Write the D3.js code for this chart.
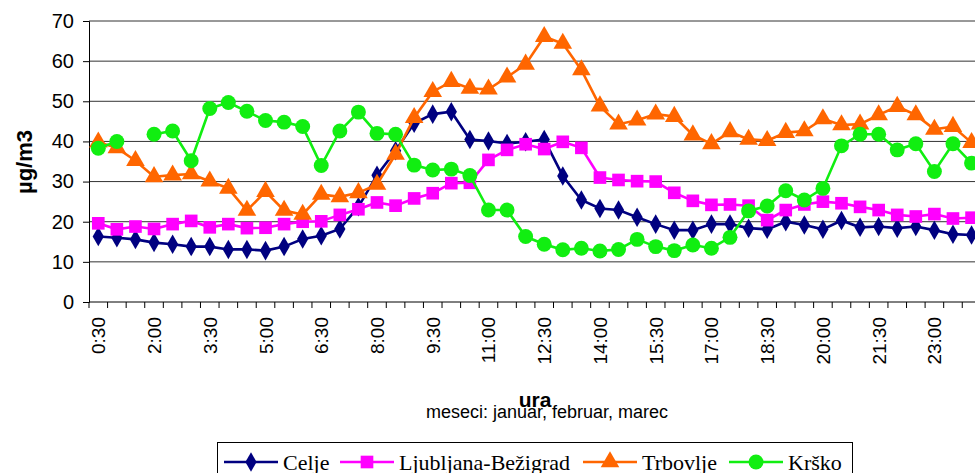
<!DOCTYPE html>
<html>
<head>
<meta charset="utf-8">
<script src="https://cdn.jsdelivr.net/npm/d3@7"></script>
<style>
  body { margin: 0; background: #fff; }
  svg { display: block; }
  text { font-family: Arial, "Liberation Sans", sans-serif; fill: #000; }
  .legend text { font-family: "Times New Roman", "Liberation Serif", serif; }
</style>
</head>
<body>
<div id="chart"></div>
<script>
// half-hour slots 0:30 .. 24:00
var times = ["0:30","1:00","1:30","2:00","2:30","3:00","3:30","4:00","4:30","5:00","5:30","6:00",
  "6:30","7:00","7:30","8:00","8:30","9:00","9:30","10:00","10:30","11:00","11:30","12:00",
  "12:30","13:00","13:30","14:00","14:30","15:00","15:30","16:00","16:30","17:00","17:30","18:00",
  "18:30","19:00","19:30","20:00","20:30","21:00","21:30","22:00","22:30","23:00","23:30","24:00"];

var celje = [16.3,16.0,15.6,14.8,14.4,13.8,13.8,13.1,13.1,12.8,13.8,15.7,
  16.5,18.2,23.7,31.6,37.7,44.5,46.8,47.4,40.5,40.1,39.5,39.9,
  40.5,31.4,25.4,23.3,22.9,21.1,19.4,17.9,17.9,19.4,19.4,18.4,
  18.1,20.0,19.2,18.1,20.3,18.6,18.8,18.4,18.8,17.9,16.9,16.7];

var ljubljana = [19.6,18.1,18.8,18.2,19.4,20.2,18.6,19.4,18.4,18.5,19.4,20.0,
  20.1,21.7,23.1,24.8,24.0,25.8,27.1,29.6,29.7,35.4,37.9,39.3,
  38.1,39.9,38.4,31.0,30.4,30.1,30.0,27.2,25.2,24.2,24.3,24.0,
  20.4,22.9,24.3,25.0,24.6,23.7,22.9,21.7,21.3,21.9,20.8,21.0];

var trbovlje = [39.8,38.4,35.2,31.2,31.6,31.9,30.1,28.3,22.8,27.5,22.8,21.8,
  26.8,26.2,27.2,29.3,36.8,45.9,52.4,54.9,53.2,53.0,56.0,59.2,
  66.1,64.4,57.8,48.8,44.3,45.3,46.8,46.2,41.6,39.4,42.4,40.5,
  40.2,42.2,42.6,45.6,44.1,44.3,46.6,48.7,46.6,43.0,43.7,39.7];

var krsko = [38.3,40.0,null,41.8,42.6,35.2,48.2,49.7,47.5,45.2,44.8,43.7,
  34.0,42.6,47.3,42.0,41.8,34.1,32.9,33.1,31.5,22.9,22.9,16.3,
  14.4,13.0,13.4,12.7,13.1,15.6,13.8,12.8,14.2,13.4,16.1,22.7,
  23.9,27.7,25.4,28.3,38.9,41.8,41.8,37.9,39.4,32.5,39.4,34.6];

var seriesNames = ["Celje", "Ljubljana-Bežigrad", "Trbovlje", "Krško"];
var seriesColors = ["#000080", "#ff00ff", "#ff6600", "#11ee11"];
var seriesShapes = [d3.symbolDiamond, d3.symbolSquare, d3.symbolTriangle, d3.symbolCircle];
var seriesSizes = [110, 160, 150, 175];
var yTicks = [0, 10, 20, 30, 40, 50, 60, 70];

var W = 975, H = 473;
var margin = {top: 21, left: 89, bottom: 171};
var plotW = times.length * 18.58;
var plotH = H - margin.top - margin.bottom;

var svg = d3.select("#chart").append("svg")
    .attr("width", W)
    .attr("height", H);

var g = svg.append("g")
    .attr("transform", "translate(" + margin.left + "," + margin.top + ")");

var xScale = d3.scaleBand().domain(times).range([0, plotW]);
var yScale = d3.scaleLinear().domain([0, 70]).range([plotH, 0]);

// gridlines
g.selectAll(".grid").data(yTicks.filter(function(d) { return d > 0; }))
  .enter().append("line")
    .attr("class", "grid")
    .attr("x1", 0).attr("x2", plotW)
    .attr("y1", function(d) { return yScale(d); })
    .attr("y2", function(d) { return yScale(d); })
    .attr("stroke", "#333").attr("stroke-width", 1);

// y axis
var yAxis = g.append("g")
  .call(d3.axisLeft(yScale).tickValues(yTicks).tickSize(6).tickPadding(9).tickFormat(d3.format("d")));
yAxis.select(".domain").attr("stroke", "#000");
yAxis.selectAll("text").style("font-size", "20px").attr("font-family", "Arial, 'Liberation Sans', sans-serif");

// x axis: ticks sit between categories
var xAxis = g.append("g").attr("transform", "translate(0," + plotH + ")");
xAxis.append("line").attr("x1", 0).attr("x2", plotW).attr("stroke", "#000");
xAxis.selectAll(".xt").data(d3.range(times.length + 1))
  .enter().append("line")
    .attr("x1", function(i) { return i * xScale.step(); })
    .attr("x2", function(i) { return i * xScale.step(); })
    .attr("y1", 0).attr("y2", 6)
    .attr("stroke", "#000");
xAxis.selectAll(".xl").data(times.filter(function(d, i) { return i % 3 === 0; }))
  .enter().append("text")
    .attr("transform", function(d) {
      return "translate(" + (xScale(d) + xScale.bandwidth() / 2 + 7) + ",15) rotate(-90)";
    })
    .attr("text-anchor", "end")
    .style("font-size", "19px")
    .text(function(d) { return d; });

// lines + markers
var allSeries = [celje, ljubljana, trbovlje, krsko];
allSeries.forEach(function(vals, k) {
  var line = d3.line()
    .defined(function(d) { return d !== null; })
    .x(function(d, i) { return xScale(times[i]) + xScale.bandwidth() / 2; })
    .y(function(d) { return yScale(d); });
  g.append("path")
    .datum(vals)
    .attr("fill", "none")
    .attr("stroke", seriesColors[k])
    .attr("stroke-width", 2.6)
    .attr("d", line);
  g.selectAll(".m" + k).data(vals.map(function(v, i) { return {v: v, t: times[i]}; })
      .filter(function(d) { return d.v !== null; }))
    .enter().append("path")
      .attr("transform", function(d) {
        return "translate(" + (xScale(d.t) + xScale.bandwidth() / 2) + "," + yScale(d.v) + ")";
      })
      .attr("d", d3.symbol().type(seriesShapes[k]).size(seriesSizes[k]))
      .attr("fill", seriesColors[k]);
});

// axis titles
svg.append("text")
  .attr("transform", "translate(32,162) rotate(-90)")
  .attr("text-anchor", "middle")
  .style("font-size", "22px").style("font-weight", "bold")
  .text("µg/m3");

svg.append("text")
  .attr("x", 535).attr("y", 407)
  .attr("text-anchor", "middle")
  .style("font-size", "21px").style("font-weight", "bold")
  .text("ura");

svg.append("text")
  .attr("x", 547).attr("y", 418)
  .attr("text-anchor", "middle")
  .style("font-size", "18px")
  .text("meseci: januar, februar, marec");

// legend
var legend = svg.append("g").attr("class", "legend");
legend.append("rect")
  .attr("x", 217.5).attr("y", 442.5)
  .attr("width", 635).attr("height", 40)
  .attr("fill", "#fff").attr("stroke", "#000");

var legX = [224, 340, 583, 729];
seriesNames.forEach(function(name, k) {
  var item = legend.append("g").attr("transform", "translate(" + legX[k] + ",462)");
  item.append("line").attr("x1", 0).attr("x2", 54)
    .attr("stroke", seriesColors[k]).attr("stroke-width", 2.6);
  item.append("path")
    .attr("transform", "translate(27,0)")
    .attr("d", d3.symbol().type(seriesShapes[k]).size(seriesSizes[k]))
    .attr("fill", seriesColors[k]);
  item.append("text")
    .attr("x", 59).attr("y", 8)
    .style("font-size", "22px")
    .text(name);
});
</script>
</body>
</html>
